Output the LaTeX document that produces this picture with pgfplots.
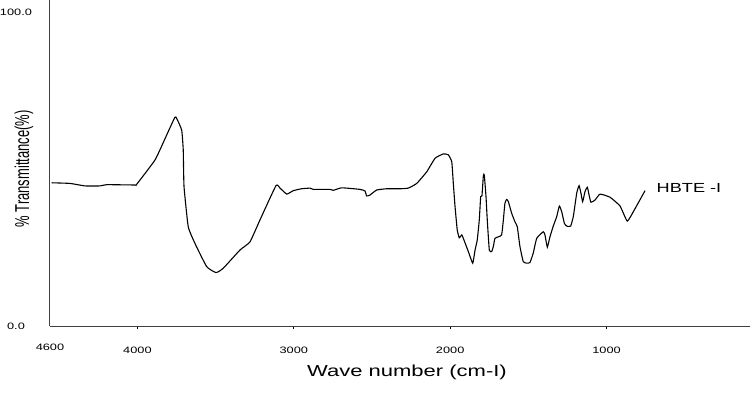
\documentclass[border=0pt]{standalone}
\usepackage{graphicx}
\usepackage{pgfplots}
\pgfplotsset{compat=1.18}
\usepackage{fontspec}
\setmainfont{Liberation Sans}
\newcommand{\sx}[1]{\scalebox{1.38}[1]{#1}}
\begin{document}
\begin{tikzpicture}
\path[use as bounding box] (0,0) rectangle (754bp,404bp);
\begin{axis}[
  at={(50bp,78bp)}, anchor=south west,
  scale only axis, width=700bp, height=326bp,
  x dir=reverse, xmin=83, xmax=4559, ymin=0, ymax=103.8,
  axis x line*=bottom, axis y line*=left,
  axis line style={-, black!75, line width=1bp},
  xtick={4000,3000,2000,1000},
  xticklabels={\sx{4000},\sx{3000},\sx{2000},\sx{1000}},
  extra x ticks={4559}, extra x tick labels={\sx{4600}},
  extra x tick style={major tick length=0pt},
  ytick={0,100}, yticklabels={\sx{0.0},\sx{100.0}},
  ytick style={draw=none},
  tick align=outside, major tick length=3bp,
  xtick style={black, line width=0.8bp},
  tick label style={font=\fontsize{9.3}{11}\selectfont},
  xticklabel style={anchor=center, yshift=-21bp},
  yticklabel style={anchor=center, xshift=-31bp},
  xlabel={\sx{Wave number (cm-I)}},
  xlabel style={font=\fontsize{16}{18}\selectfont, at={(axis description cs:0.5,0)}, anchor=center, yshift=-46bp, xshift=7bp},
  ylabel={\scalebox{1}[1.55]{\% Transmittance(\%)}},
  ylabel style={font=\fontsize{13}{15}\selectfont, at={(axis description cs:0,0.482)}, anchor=center, yshift=26bp},
  clip=false,
]
\addplot[black, line width=1.1bp, smooth, tension=0.25] coordinates {
(4548,45.6) (4431,45.4) (4335,44.6) (4239,44.6) (4196,45.0) (4015,44.9) (4005,45.1)
(3887,52.9) (3813,60.8) (3760,66.5) (3749,66.1) (3717,62.4) (3707,56.1) (3702,44.4)
(3675,31.6) (3632,26.3) (3557,18.9) (3497,17.0) (3451,18.4) (3344,24.2) (3280,26.8)
(3216,33.8) (3114,44.7) (3088,43.9) (3045,42.0) (3003,43.1) (2950,43.7) (2896,43.9)
(2875,43.5) (2769,43.5) (2747,43.2) (2694,44.0) (2577,43.5) (2545,43.0) (2534,41.4)
(2513,41.7) (2470,43.3) (2406,43.7) (2321,43.7) (2268,43.9) (2214,45.4) (2150,49.1)
(2097,53.4) (2044,54.8) (2012,54.5) (1990,52.3) (1980,45.4) (1969,38.0) (1955,30.6)
(1942,28.1) (1926,29.0) (1916,27.9) (1884,23.7) (1856,20.0) (1841,24.2) (1827,27.4)
(1814,33.8) (1805,41.2) (1797,41.4) (1788,47.8) (1782,48.1) (1771,41.2) (1763,33.8)
(1750,24.2) (1735,23.7) (1724,25.3) (1714,27.9) (1692,28.4) (1671,29.0) (1660,33.8)
(1650,39.1) (1639,40.3) (1628,39.6) (1607,35.9) (1586,33.2) (1571,31.6) (1554,25.3)
(1533,20.5) (1511,20.0) (1490,20.2) (1469,23.2) (1447,27.9) (1405,30.0) (1394,29.0)
(1379,25.1) (1362,28.4) (1341,31.8) (1319,34.8) (1302,38.2) (1287,36.4) (1270,32.7)
(1255,31.8) (1230,31.8) (1213,34.8) (1191,42.3) (1176,44.7) (1164,42.3) (1153,39.6)
(1138,42.8) (1123,44.2) (1112,41.7) (1100,39.4) (1074,40.1) (1042,42.0) (978,41.0)
(914,38.2) (868,33.4) (829,36.4) (754,43.1)
};
\node[anchor=center, font=\fontsize{13.2}{15}\selectfont] at (axis cs:473,43.9) {\sx{HBTE -I}};
\end{axis}
\end{tikzpicture}
\end{document}
